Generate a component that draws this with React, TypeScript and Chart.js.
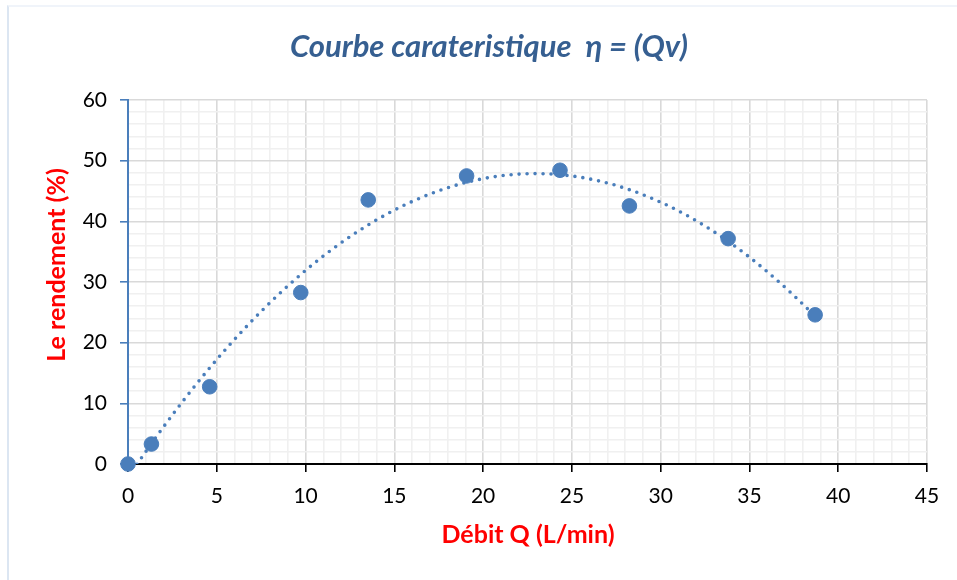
import React, { useEffect, useRef } from "react";
import { Chart, registerables } from "chart.js";

Chart.register(...registerables);

const debitQ: number[] = [0, 1.32, 4.6, 9.73, 13.53, 19.07, 24.33, 28.24, 33.8, 38.7];
const rendement: number[] = [0, 3.29, 12.73, 28.26, 43.53, 47.48, 48.42, 42.54, 37.15, 24.59];

const chartTitle = "Courbe carateristique  \u03B7 = (Qv)";
const xTitle = "Débit Q (L/min)";
const yTitle = "Le rendement (%)";

const X_MIN = 0, X_MAX = 45, X_MAJOR = 5, X_MINOR = 1;
const Y_MIN = 0, Y_MAX = 60, Y_MAJOR = 10, Y_MINOR = 2;

// Least-squares polynomial (order 2) trendline, as Excel computes it from the data
function polyFit(xs: number[], ys: number[]) {
  const S = [0, 0, 0, 0, 0];
  const T = [0, 0, 0];
  for (let i = 0; i < xs.length; i++) {
    let p = 1;
    for (let k = 0; k < 5; k++) { S[k] += p; if (k < 3) T[k] += p * ys[i]; p *= xs[i]; }
  }
  const A = [
    [S[0], S[1], S[2], T[0]],
    [S[1], S[2], S[3], T[1]],
    [S[2], S[3], S[4], T[2]],
  ];
  for (let c = 0; c < 3; c++) {
    for (let r = c + 1; r < 3; r++) {
      const f = A[r][c] / A[c][c];
      for (let k = c; k < 4; k++) A[r][k] -= f * A[c][k];
    }
  }
  const coef = [0, 0, 0];
  for (let r = 2; r >= 0; r--) {
    let s = A[r][3];
    for (let k = r + 1; k < 3; k++) s -= A[r][k] * coef[k];
    coef[r] = s / A[r][r];
  }
  return coef;
}

export default function App() {
  const ref = useRef<HTMLCanvasElement | null>(null);
  useEffect(() => {
    if (!ref.current) return;
    const coef = polyFit(debitQ, rendement);
    const x0 = Math.min(...debitQ), x1 = Math.max(...debitQ);
    const trend: { x: number; y: number }[] = [];
    const n = 120;
    for (let i = 0; i <= n; i++) {
      const x = x0 + ((x1 - x0) * i) / n;
      trend.push({ x, y: coef[0] + coef[1] * x + coef[2] * x * x });
    }
    const pts = debitQ.map((x, i) => ({ x, y: rendement[i] }));

    const titlesPlugin = {
      id: "titles",
      afterDraw(chart: any) {
        const c = chart.ctx;
        c.save();
        c.textAlign = "center";
        c.textBaseline = "middle";
        c.fillStyle = "#365F91";
        c.font = "italic bold 31px Lato";
        c.fillText(chartTitle, 489, 47);
        c.fillStyle = "#FF0000";
        c.font = "bold 25px Lato";
        c.fillText(xTitle, 528, 535);
        c.translate(57, 265);
        c.rotate(-Math.PI / 2);
        c.fillText(yTitle, 0, 0);
        c.restore();
      },
    };

    const chart = new Chart(ref.current, {
      type: "scatter",
      data: {
        datasets: [
          {
            data: pts,
            backgroundColor: "#4A7EBB",
            borderColor: "#4A7EBB",
            pointRadius: 7.3,
            pointHoverRadius: 7.3,
            showLine: false,
            clip: false as any,
          },
          {
            data: trend,
            showLine: true,
            pointRadius: 0,
            borderColor: "#4A7EBB",
            borderWidth: 3.6,
            borderDash: [0, 8],
            borderCapStyle: "round",
            fill: false,
          },
        ],
      },
      options: {
        animation: false,
        responsive: false,
        devicePixelRatio: 1,
        layout: { padding: { top: 100, right: 30, bottom: 0, left: 0 } },
        plugins: { legend: { display: false }, tooltip: { enabled: false }, title: { display: false } },
        scales: {
          x: {
            type: "linear",
            min: X_MIN,
            max: X_MAX,
            afterFit: (s: any) => { s.height = 116; },
            ticks: {
              stepSize: X_MINOR,
              autoSkip: false,
              maxRotation: 0,
              padding: 12,
              color: "#000",
              font: { family: "Lato", size: 21 },
              callback: (v: any) => (Math.round(v) % X_MAJOR === 0 ? String(v) : ""),
            },
            grid: {
              color: (ctx: any) => (Math.round(ctx.tick.value) % X_MAJOR === 0 ? "#D9D9D9" : "#F0F0F0"),
              lineWidth: 1.6,
              tickLength: 8,
              tickColor: (ctx: any) => (Math.round(ctx.tick.value) % X_MAJOR === 0 ? "#000" : "rgba(0,0,0,0)"),
              tickWidth: 1.6,
            },
            border: { color: "#000", width: 2 },
          },
          y: {
            type: "linear",
            min: Y_MIN,
            max: Y_MAX,
            afterFit: (s: any) => { s.width = 128; },
            ticks: {
              stepSize: Y_MINOR,
              autoSkip: false,
              padding: 13,
              color: "#000",
              font: { family: "Lato", size: 21 },
              callback: (v: any) => (Math.round(v) % Y_MAJOR === 0 ? String(v) : ""),
            },
            grid: {
              color: (ctx: any) => (Math.round(ctx.tick.value) % Y_MAJOR === 0 ? "#D9D9D9" : "#F0F0F0"),
              lineWidth: 1.6,
              tickLength: 8,
              tickColor: (ctx: any) => (Math.round(ctx.tick.value) % Y_MAJOR === 0 ? "#4A7EBB" : "rgba(0,0,0,0)"),
              tickWidth: 1.6,
            },
            border: { color: "#4A7EBB", width: 2 },
          },
        },
      },
      plugins: [titlesPlugin],
    } as any);
    return () => chart.destroy();
  }, []);

  return (
    <div style={{ position: "fixed", left: 0, top: 0, width: 957, height: 580, background: "#fff" }}>
      <div
        style={{
          position: "absolute",
          left: 7,
          top: 5,
          width: 960,
          height: 580,
          borderLeft: "2px solid #DCE6F2",
          borderTop: "2px solid #F0F4FA",
        }}
      />
      <canvas ref={ref} width={957} height={580} style={{ position: "absolute", left: 0, top: 0, width: 957, height: 580 }} />
    </div>
  );
}
